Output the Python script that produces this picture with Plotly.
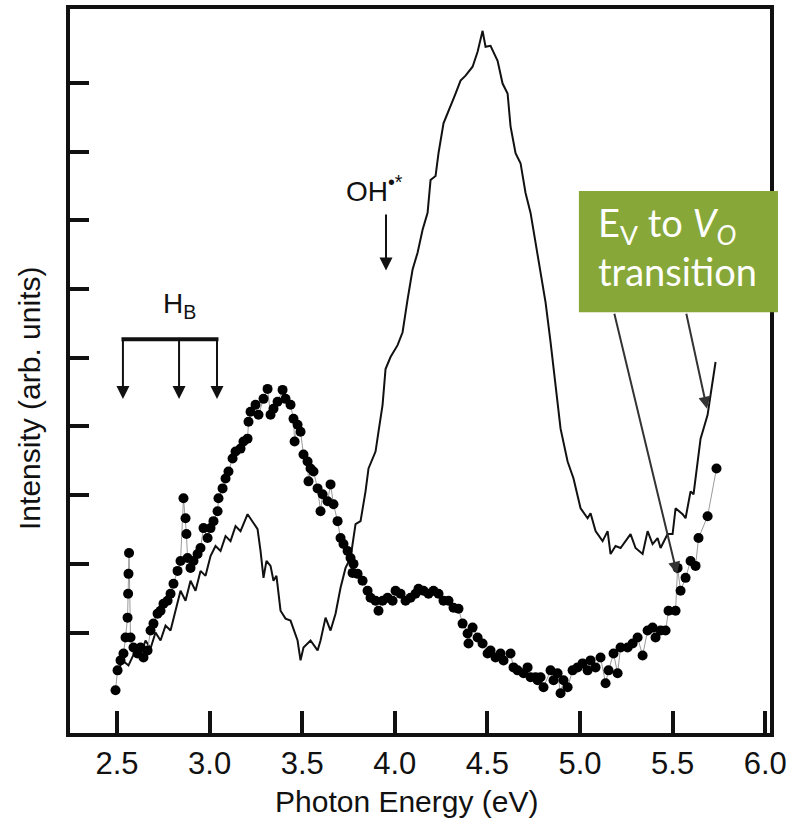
import plotly.graph_objects as go

# ---------------- data (photon energy in eV, intensity in arb. units) ----------------
solid_x = [2.503,2.530,2.562,2.600,2.627,2.654,2.681,2.708,2.735,2.762,2.789,2.816,2.843,2.870,2.897,2.924,2.951,2.978,3.005,3.032,
           3.059,3.086,3.113,3.140,3.167,3.205,3.232,3.259,3.275,3.291,3.307,3.329,3.345,3.361,3.383,3.410,3.437,3.475,3.491,3.507,
           3.545,3.583,3.599,3.626,3.653,3.680,3.707,3.734,3.761,3.788,3.815,3.842,3.858,3.896,3.912,3.934,3.950,3.977,4.015,4.042,
           4.069,4.096,4.123,4.150,4.177,4.193,4.220,4.236,4.263,4.290,4.328,4.355,4.382,4.420,4.447,4.474,4.490,4.517,4.555,4.582,
           4.609,4.625,4.652,4.679,4.706,4.733,4.760,4.787,4.814,4.841,4.868,4.895,4.933,4.965,5.003,5.041,5.057,5.084,5.122,5.149,
           5.165,5.192,5.219,5.246,5.273,5.300,5.338,5.365,5.392,5.419,5.435,5.473,5.500,5.516,5.554,5.570,5.597,5.613,5.635,5.651,
           5.667,5.689,5.705,5.732]
solid_y = [0.421,0.595,0.522,0.740,0.667,0.884,0.768,1.000,0.884,1.101,1.029,1.318,1.608,1.463,1.753,1.608,1.897,1.825,2.114,2.259,
           2.187,2.404,2.331,2.549,2.476,2.722,2.621,2.505,2.187,1.796,2.042,1.970,1.753,1.825,1.318,1.203,1.174,0.884,0.595,0.783,
           0.884,0.740,0.884,1.217,1.029,1.275,1.651,1.941,2.085,2.577,2.621,3.055,3.388,3.634,3.923,4.314,4.835,5.009,5.182,5.370,
           5.848,6.282,6.528,6.861,7.107,7.585,7.643,7.976,8.410,8.583,8.844,9.032,9.104,9.234,9.452,9.756,9.524,9.538,9.321,8.989,
           8.844,8.366,7.976,7.830,7.397,7.107,6.673,6.239,5.805,5.226,4.604,3.967,3.489,3.243,2.809,2.664,2.737,2.476,2.331,2.476,
           2.143,2.259,2.230,2.331,2.433,2.230,2.143,2.476,2.288,2.375,2.230,2.433,2.433,2.809,2.722,2.664,3.055,3.012,3.533,3.822,
           3.967,4.169,4.459,4.937]

dots_x = [2.492,2.503,2.519,2.535,2.546,2.557,2.560,2.562,2.565,2.573,2.589,2.611,2.627,2.643,2.665,2.681,2.697,2.719,2.735,2.751,
          2.773,2.789,2.805,2.827,2.843,2.859,2.870,2.875,2.881,2.897,2.913,2.935,2.951,2.967,2.989,3.005,3.021,3.043,3.048,3.070,
          3.086,3.102,3.124,3.140,3.167,3.183,3.205,3.210,3.221,3.248,3.264,3.291,3.313,3.329,3.345,3.367,3.394,3.410,3.437,3.453,
          3.459,3.475,3.491,3.507,3.529,3.534,3.545,3.561,3.583,3.599,3.610,3.637,3.653,3.669,3.691,3.707,3.723,3.745,3.761,3.772,
          3.777,3.799,3.826,3.853,3.869,3.896,3.912,3.934,3.961,3.988,4.004,4.031,4.058,4.085,4.112,4.128,4.155,4.182,4.209,4.236,
          4.263,4.290,4.317,4.344,4.366,4.393,4.398,4.420,4.447,4.474,4.501,4.517,4.544,4.571,4.587,4.625,4.641,4.663,4.695,4.717,
          4.733,4.760,4.771,4.787,4.803,4.841,4.857,4.879,4.895,4.911,4.933,4.960,4.987,5.014,5.041,5.057,5.084,5.111,5.138,5.154,
          5.181,5.203,5.219,5.257,5.284,5.311,5.338,5.365,5.392,5.408,5.435,5.462,5.478,5.516,5.527,5.543,5.570,5.597,5.624,5.640,
          5.689,5.737]
dots_y = [0.161,0.450,0.595,0.696,0.928,1.217,1.564,1.854,2.158,0.928,0.783,0.696,0.783,0.638,0.740,1.029,1.130,1.275,1.318,1.420,
          1.463,1.564,1.709,1.897,2.042,2.954,2.664,2.433,2.085,1.941,2.042,2.143,2.230,2.520,2.375,2.520,2.621,2.766,2.954,3.098,
          3.243,3.344,3.533,3.634,3.677,3.779,3.822,4.068,4.213,4.314,4.169,4.401,4.546,4.169,4.256,4.358,4.531,4.401,4.314,4.111,
          3.779,4.025,3.923,3.590,3.489,3.200,3.388,3.344,3.098,2.766,3.012,2.910,3.156,2.867,2.621,2.375,2.288,2.187,2.085,1.868,
          1.999,1.854,1.753,1.608,1.507,1.463,1.318,1.463,1.507,1.463,1.608,1.564,1.463,1.507,1.564,1.637,1.608,1.564,1.608,1.564,
          1.463,1.463,1.362,1.347,1.130,0.986,0.841,1.072,0.928,0.841,0.696,0.740,0.638,0.696,0.595,0.696,0.493,0.450,0.407,0.493,
          0.349,0.349,0.305,0.349,0.204,0.450,0.305,0.407,0.117,0.305,0.204,0.450,0.493,0.551,0.450,0.595,0.493,0.638,0.262,0.450,
          0.696,0.407,0.783,0.783,0.841,0.928,0.667,1.029,1.072,0.928,1.029,1.029,1.318,1.318,1.941,1.608,1.796,2.042,1.970,2.375,
          2.693,3.388]

x_ticks = [2.5, 3.0, 3.5, 4.0, 4.5, 5.0, 5.5, 6.0]
x_tick_labels = ["2.5", "3.0", "3.5", "4.0", "4.5", "5.0", "5.5", "6.0"]
y_ticks = [1, 2, 3, 4, 5, 6, 7, 8, 9]

hb_positions = [2.532, 2.835, 3.040]   # H_B marker energies
oh_position = 3.9525                   # OH•* marker energy

# ---------------- figure ----------------
AX_FONT = "Liberation Sans, Arial, sans-serif"
fig = go.Figure()
fig.add_trace(go.Scatter(x=solid_x, y=solid_y, mode="lines",
                         line=dict(color="#111111", width=2), showlegend=False))
fig.add_trace(go.Scatter(x=dots_x, y=dots_y, mode="lines+markers",
                         line=dict(color="#9a9a9a", width=1),
                         marker=dict(color="#000000", size=10), showlegend=False))

annotations = []
# axis titles
annotations.append(dict(text="Photon Energy (eV)", xref="paper", yref="paper", x=0.481, y=-0.095,
                        xanchor="center", yanchor="middle",
                        showarrow=False, font=dict(family=AX_FONT, size=30, color="#111")))
annotations.append(dict(text="Intensity (arb. units)", xref="paper", yref="paper", x=-0.057, y=0.4615,
                        xanchor="center", yanchor="middle",
                        textangle=-90, showarrow=False, font=dict(family=AX_FONT, size=30, color="#111")))
# H_B label and arrows
annotations.append(dict(text="H<sub>B</sub>", x=2.840, y=5.76, showarrow=False,
                        font=dict(family=AX_FONT, size=28, color="#111")))
for hx in hb_positions:
    annotations.append(dict(text="", x=hx, y=4.40, ax=hx, ay=5.269, axref="x", ayref="y",
                            showarrow=True, arrowhead=2, arrowsize=1.3, arrowwidth=2, arrowcolor="#111"))
# OH label and arrow
annotations.append(dict(text="OH<sup>•*</sup>", x=3.893, y=7.45, showarrow=False,
                        font=dict(family=AX_FONT, size=28, color="#111")))
annotations.append(dict(text="", x=oh_position, y=6.268, ax=oh_position, ay=7.107, axref="x", ayref="y",
                        showarrow=True, arrowhead=2, arrowsize=1.3, arrowwidth=2, arrowcolor="#111"))
# arrows from green box
annotations.append(dict(text="", x=5.5238, y=1.854, ax=5.1836, ay=5.66, axref="x", ayref="y",
                        showarrow=True, arrowhead=2, arrowsize=1.2, arrowwidth=2, arrowcolor="#333"))
annotations.append(dict(text="", x=5.6857, y=4.256, ax=5.5724, ay=5.66, axref="x", ayref="y",
                        showarrow=True, arrowhead=2, arrowsize=1.2, arrowwidth=2, arrowcolor="#333"))
# green box text
BOX_FONT = "Lato, Open Sans, sans-serif"
annotations.append(dict(text="E<sub>V</sub> to <i>V<sub>O</sub></i><br>transition", xref="paper", yref="paper",
                        x=0.752, y=0.672, xanchor="left", yanchor="middle", align="left", showarrow=False,
                        font=dict(family=BOX_FONT, size=38, color="white")))

shapes = [
    dict(type="line", x0=hb_positions[0] - 0.008, x1=hb_positions[-1] + 0.008, y0=5.269, y1=5.269,
         line=dict(color="#111", width=4)),
    dict(type="rect", xref="paper", yref="paper", x0=0.727, x1=1.0114, y0=0.581, y1=0.7486,
         fillcolor="#87A838", line=dict(width=0), layer="above"),
]

fig.update_layout(
    width=795, height=835,
    margin=dict(l=70, r=25, t=5, b=102),
    paper_bgcolor="white", plot_bgcolor="white",
    annotations=annotations, shapes=shapes,
    xaxis=dict(range=[2.2462, 6.0259], tickvals=x_ticks, ticktext=x_tick_labels,
               ticks="inside", ticklen=22, tickwidth=3.5, tickcolor="#111",
               showline=True, linewidth=3.5, linecolor="#111", mirror=True,
               showgrid=False, zeroline=False,
               tickfont=dict(family=AX_FONT, size=31, color="#111")),
    yaxis=dict(range=[-0.4617, 10.074], tickvals=y_ticks, showticklabels=False,
               ticks="inside", ticklen=19, tickwidth=3.5, tickcolor="#111",
               showline=True, linewidth=3.5, linecolor="#111", mirror=True,
               showgrid=False, zeroline=False),
)

fig.write_html("out.html")
